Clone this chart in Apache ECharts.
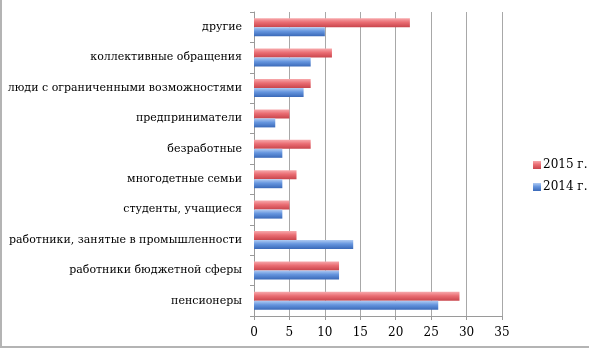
<!DOCTYPE html>
<html>
<head>
<meta charset="utf-8">
<script src="https://cdn.jsdelivr.net/npm/echarts@6/dist/echarts.min.js"></script>
<style>
html,body{margin:0;padding:0;background:#fff;}
#chart{width:589px;height:349px;}
</style>
</head>
<body>
<div id="chart"></div>
<script>
// Categories listed bottom-to-top as they appear on the vertical axis
const categories = [
  'пенсионеры',
  'работники бюджетной сферы',
  'работники, занятые в промышленности',
  'студенты, учащиеся',
  'многодетные семьи',
  'безработные',
  'предприниматели',
  'люди с ограниченными возможностями',
  'коллективные обращения',
  'другие'
];
const values2015 = [29, 12, 6, 5, 6, 8, 5, 8, 11, 22];
const values2014 = [26, 12, 14, 4, 4, 4, 3, 7, 8, 10];
const seriesNames = ['2015 г.', '2014 г.'];
const xTicks = { min: 0, max: 35, interval: 5 };

const FONT = 'DejaVu Serif';

function glossy(light, mid, dark) {
  return new echarts.graphic.LinearGradient(0, 0, 0, 1, [
    { offset: 0, color: light },
    { offset: 0.45, color: mid },
    { offset: 1, color: dark }
  ]);
}
const redFill = glossy('#f7a9ac', '#ea6d73', '#c9454c');
const blueFill = glossy('#b0cbf3', '#6595de', '#3a69b8');

const chart = echarts.init(document.getElementById('chart'), null, { renderer: 'canvas' });
chart.setOption({
  animation: false,
  backgroundColor: '#ffffff',
  grid: { left: 254, right: 87, top: 12, bottom: 33, containLabel: false },
  legend: {
    orient: 'vertical',
    left: 528,
    top: 154,
    itemWidth: 8,
    itemHeight: 8,
    itemGap: 10,
    icon: 'rect',
    data: seriesNames,
    textStyle: { fontFamily: FONT, fontSize: 12, color: '#000', padding: [0, 0, 0, -3] }
  },
  xAxis: {
    type: 'value',
    min: xTicks.min,
    max: xTicks.max,
    interval: xTicks.interval,
    axisLine: { show: true, lineStyle: { color: '#9a9a9a' } },
    axisTick: { show: true, length: 4, lineStyle: { color: '#9a9a9a' } },
    axisLabel: { fontFamily: FONT, fontSize: 12, color: '#000', margin: 11 },
    splitLine: { show: true, lineStyle: { color: '#a8a8a8', width: 1 } }
  },
  yAxis: {
    type: 'category',
    data: categories,
    axisLine: { show: true, lineStyle: { color: '#9a9a9a' } },
    axisTick: { show: true, length: 4, inside: false, lineStyle: { color: '#9a9a9a' } },
    axisLabel: { fontFamily: FONT, fontSize: 11, color: '#000', margin: 12 },
    splitLine: { show: false }
  },
  series: [
    {
      name: seriesNames[0],
      type: 'bar',
      data: values2015,
      barWidth: 9,
      barGap: '0%',
      itemStyle: { color: redFill }
    },
    {
      name: seriesNames[1],
      type: 'bar',
      data: values2014,
      barWidth: 9,
      barGap: '0%',
      itemStyle: { color: blueFill }
    }
  ],
  graphic: [
    {
      type: 'polyline',
      silent: true,
      shape: { points: [[1, 0], [1, 347], [589, 347]] },
      style: { stroke: '#b4b4b4', lineWidth: 2, fill: null }
    }
  ]
});
</script>
</body>
</html>
